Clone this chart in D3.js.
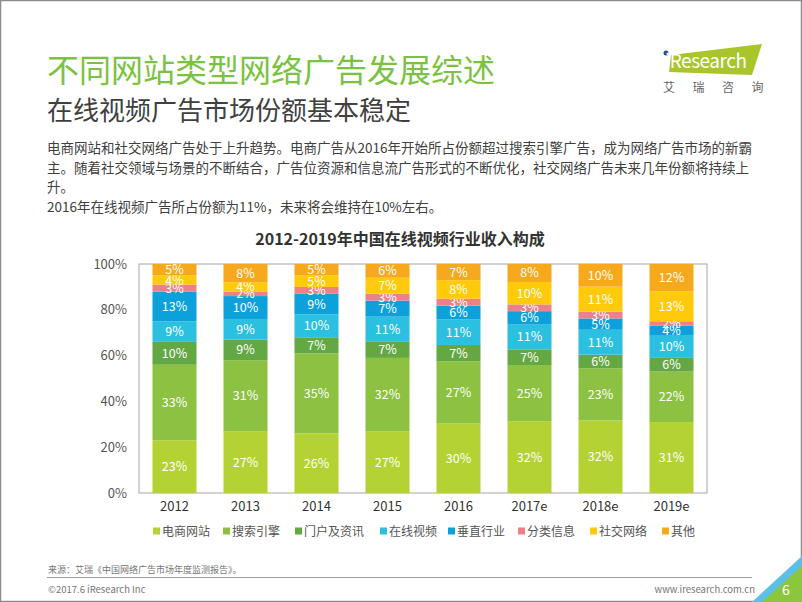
<html>
<head>
<meta charset="utf-8">
<script src="https://d3js.org/d3.v7.min.js"></script>
<style>
  body { margin: 0; background: #fff; }
  svg text { font-family: "Noto Sans CJK SC", "Open Sans", sans-serif; }
</style>
</head>
<body>
<svg class="chart"></svg>
<script>
const years = ['2012', '2013', '2014', '2015', '2016', '2017e', '2018e', '2019e'];
const seriesNames = ['电商网站', '搜索引擎', '门户及资讯', '在线视频', '垂直行业', '分类信息', '社交网络', '其他'];
const seriesColors = ['#b5d234', '#8cc142', '#63a843', '#2bc0e0', '#0da1dc', '#ef8089', '#ffca0a', '#f6a91d'];
const shop    = [23, 27, 26, 27, 30, 32, 32, 31];
const search  = [33, 31, 35, 32, 27, 25, 23, 22];
const portal  = [10, 9, 7, 7, 7, 7, 6, 6];
const video   = [9, 9, 10, 11, 11, 11, 11, 10];
const vertical= [13, 10, 9, 7, 6, 6, 5, 4];
const classify= [3, 2, 3, 3, 3, 3, 3, 2];
const social  = [4, 4, 5, 7, 8, 10, 11, 13];
const other   = [5, 8, 5, 6, 7, 8, 10, 12];
const yTicks = [0, 0.2, 0.4, 0.6, 0.8, 1];

const allSeries = [shop, search, portal, video, vertical, classify, social, other];
const table = years.map((y, i) => {
  const row = { year: y };
  seriesNames.forEach((n, k) => row[n] = allSeries[k][i]);
  return row;
});

const W = 802, H = 602;
const svg = d3.select('.chart').attr('width', W).attr('height', H).attr('viewBox', [0, 0, W, H]);

// frame
svg.append('rect').attr('x', 0.5).attr('y', 0.5).attr('width', W - 1).attr('height', H - 1)
  .attr('fill', '#fff').attr('stroke', '#8c8c8c').attr('stroke-width', 1.5);

// titles
svg.append('text').attr('x', 47).attr('y', 82).text('不同网站类型网络广告发展综述')
  .attr('font-size', 32).attr('fill', '#7cc242');
svg.append('text').attr('x', 47).attr('y', 120).text('在线视频广告市场份额基本稳定')
  .attr('font-size', 26).attr('fill', '#404040');

const para = [
  '电商网站和社交网络广告处于上升趋势。电商广告从2016年开始所占份额超过搜索引擎广告，成为网络广告市场的新霸',
  '主。随着社交领域与场景的不断结合，广告位资源和信息流广告形式的不断优化，社交网络广告未来几年份额将持续上',
  '升。',
  '2016年在线视频广告所占份额为11%，未来将会维持在10%左右。'
];
svg.append('g').selectAll('text').data(para).join('text')
  .attr('x', 47).attr('y', (d, i) => 153 + i * 19.5)
  .attr('font-size', 13.5).attr('fill', '#404040').text(d => d);

// logo
const logo = svg.append('g');
logo.append('path').attr('d', 'M671,55 L762,44 L752,75 L669,72 Z').attr('fill', '#a8c62a');
logo.append('circle').attr('cx', 666).attr('cy', 53).attr('r', 2.5).attr('fill', '#2a4f9c');
logo.append('text').attr('x', 665).attr('y', 68).text('iResearch').attr('font-size', 19)
  .attr('textLength', 82).attr('fill', '#fff').attr('font-family', 'Open Sans');
logo.append('g').selectAll('text').data(['艾', '瑞', '咨', '询']).join('text')
  .attr('x', (d, i) => 669 + i * 29.5).attr('y', 92).attr('text-anchor', 'middle')
  .attr('font-size', 12).attr('fill', '#666').text(d => d);

// chart
svg.append('text').attr('x', 400).attr('y', 245).attr('text-anchor', 'middle')
  .attr('font-size', 16).attr('font-weight', 'bold').attr('fill', '#333')
  .text('2012-2019年中国在线视频行业收入构成');

const m = { left: 139, right: 707, top: 264, bottom: 493 };
const x = d3.scaleBand().domain(years).range([m.left, m.right]).paddingInner(0.38).paddingOuter(0.19);
const y = d3.scaleLinear().domain([0, 1]).range([m.bottom, m.top]);

const stacked = d3.stack().keys(seriesNames).offset(d3.stackOffsetExpand)(table);

svg.append('rect').attr('x', m.left).attr('y', m.top).attr('width', m.right - m.left)
  .attr('height', m.bottom - m.top).attr('fill', 'none').attr('stroke', '#a6a6a6');

const layers = svg.append('g').selectAll('g').data(stacked).join('g')
  .attr('fill', (d, i) => seriesColors[i]);
layers.selectAll('rect').data(d => d).join('rect')
  .attr('x', d => x(d.data.year)).attr('width', x.bandwidth())
  .attr('y', d => y(d[1])).attr('height', d => y(d[0]) - y(d[1]));

layers.selectAll('text').data(d => d.map(v => ({ v, key: d.key }))).join('text')
  .attr('x', d => x(d.v.data.year) + x.bandwidth() / 2)
  .attr('y', d => (y(d.v[0]) + y(d.v[1])) / 2 + 4.5)
  .attr('text-anchor', 'middle').attr('font-size', 12.5).attr('fill', '#fff')
  .text(d => d.v.data[d.key] + '%');

const yAxis = svg.append('g').attr('transform', `translate(${m.left},0)`)
  .call(d3.axisLeft(y).tickValues(yTicks).tickFormat(d3.format('.0%')).tickSize(0).tickPadding(12));
yAxis.select('.domain').remove();
yAxis.selectAll('text').attr('font-size', 13).attr('fill', '#555');

const xAxis = svg.append('g').attr('transform', `translate(0,${m.bottom})`)
  .call(d3.axisBottom(x).tickSize(0).tickPadding(9));
xAxis.select('.domain').remove();
xAxis.selectAll('text').attr('font-size', 13).attr('fill', '#333');

// legend
const legendX = [153, 223, 295, 380, 448, 518, 590, 662];
const lg = svg.append('g').selectAll('g').data(seriesNames).join('g')
  .attr('transform', (d, i) => `translate(${legendX[i]},531)`);
lg.append('rect').attr('x', 0).attr('y', -3.5).attr('width', 7).attr('height', 7)
  .attr('fill', (d, i) => seriesColors[i]);
lg.append('text').attr('x', 9).attr('y', 4.5).attr('font-size', 12).attr('fill', '#555').text(d => d);

// footer
svg.append('text').attr('x', 48).attr('y', 573).attr('font-size', 9).attr('fill', '#777')
  .text('来源：艾瑞《中国网络广告市场年度监测报告》。');
svg.append('line').attr('x1', 47).attr('x2', 752).attr('y1', 577.5).attr('y2', 577.5)
  .attr('stroke', '#a0a0a0').attr('stroke-width', 1);
svg.append('text').attr('x', 48).attr('y', 593).attr('font-size', 9.5).attr('fill', '#777')
  .text('©2017.6 iResearch Inc');
svg.append('text').attr('x', 755).attr('y', 593).attr('text-anchor', 'end').attr('font-size', 9.5)
  .attr('fill', '#777').text('www.iresearch.com.cn');

// corner
svg.append('path').attr('d', 'M752,602 L802,556 L802,571 L770,602 Z').attr('fill', '#5cc0e6');
svg.append('path').attr('d', 'M762,602 L802,566 L802,602 Z').attr('fill', '#8cc63f');
svg.append('text').attr('x', 786).attr('y', 595).attr('text-anchor', 'middle').attr('font-size', 14)
  .attr('fill', '#fff').text('6');
</script>
</body>
</html>
